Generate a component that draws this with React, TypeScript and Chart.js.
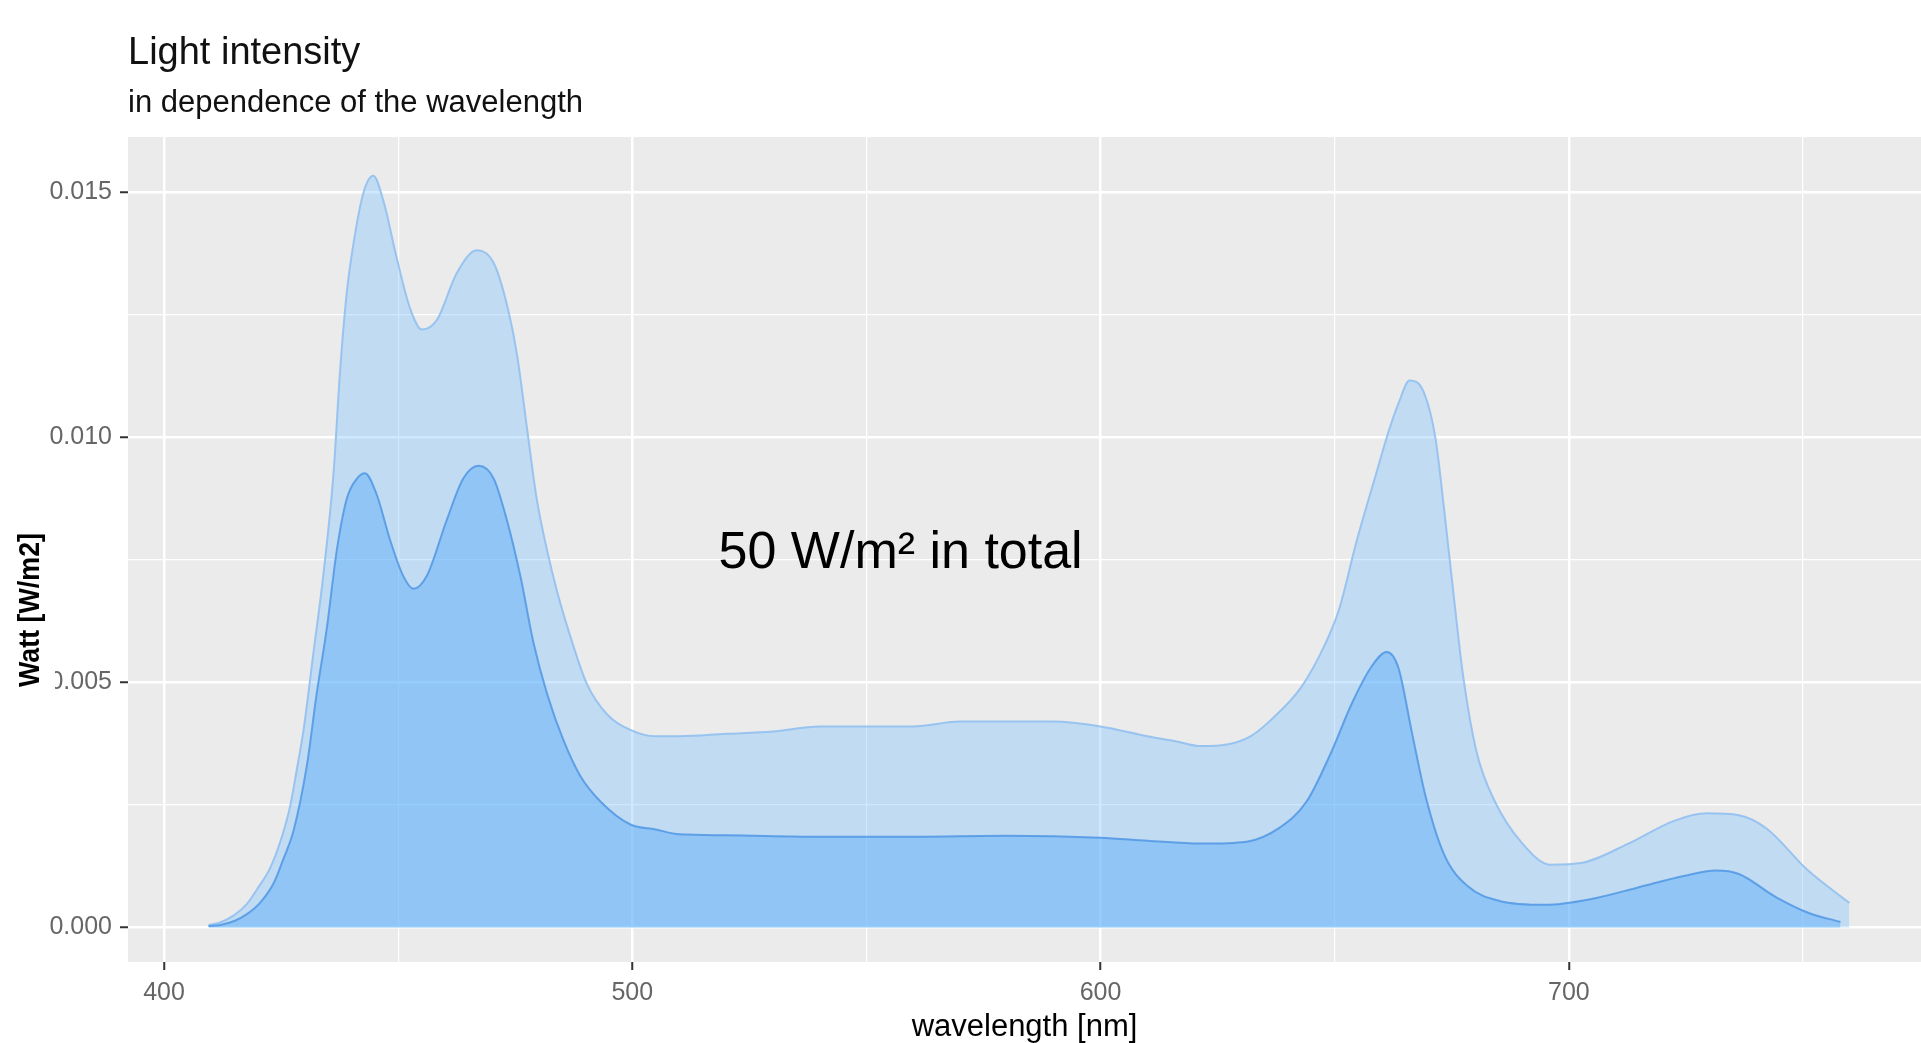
import React, { useEffect, useRef } from 'react';
import { Chart, registerables } from 'chart.js';

Chart.register(...registerables);

// ---- data ----
const outerNm = [
  409.5, 412, 415, 417.7, 420, 422.6, 425, 426.9, 428.5, 429.8, 431.9, 434, 436.2, 437.6, 439, 440.5,
  442.6, 444.7, 446.9, 449.7, 452.6, 455.1, 458.3, 462.5, 466.8, 470.4, 473.2, 475.4, 477.5, 479.6,
  481.8, 483.9, 486.8, 490.3, 494.6, 499.6, 505, 510, 520, 530, 540, 550, 560, 570, 580, 590, 600,
  610, 616, 621.4, 627.3, 632, 636.1, 642.9, 647.9, 650.9, 654.7, 658.7, 661.6, 663.6, 666, 669,
  671.5, 673.4, 675.4, 677.4, 680.3, 684.2, 690.1, 696, 702.9, 712.7, 722.6, 729.4, 736.3, 742.2,
  751.1, 759.9,
];
const outerW = [
  0.00005, 0.0001, 0.00025, 0.00048, 0.0008, 0.0012, 0.0018, 0.00246, 0.0033, 0.00403, 0.0056, 0.00717,
  0.00927, 0.01136, 0.01293, 0.01398, 0.015, 0.01534, 0.01481, 0.01366, 0.01262, 0.0122, 0.0124,
  0.01335, 0.01382, 0.01356, 0.01272, 0.01168, 0.0102, 0.00874, 0.0077, 0.00687, 0.00593, 0.00497,
  0.00435, 0.00403, 0.0039, 0.0039, 0.00395, 0.004, 0.0041, 0.0041, 0.0041, 0.0042, 0.0042, 0.0042,
  0.0041, 0.0039, 0.0038, 0.0037, 0.00374, 0.0039, 0.00421, 0.00491, 0.00577, 0.00648, 0.00789,
  0.00921, 0.01015, 0.01069, 0.01116, 0.01093, 0.00999, 0.0085, 0.00678, 0.00515, 0.00358, 0.00257,
  0.00171, 0.00128, 0.00132, 0.00171, 0.00218, 0.00233, 0.00229, 0.00202, 0.00116, 0.0005,
];
const innerNm = [
  409.5, 412, 415, 417.7, 420.5, 423.4, 425.5, 427.6, 430.5, 432.6, 434.8, 436.9, 439, 441.2, 442.9,
  445.4, 448.3, 451.1, 453.3, 456.1, 460.4, 463.9, 467.2, 470.4, 473.2, 476.1, 478.9, 481.8, 485.3,
  488.9, 493.2, 499.6, 505, 510, 520, 540, 560, 580, 600, 610, 621.4, 631.2, 638, 644, 648.9, 653.8,
  657.7, 661.1, 663.6, 666.5, 669.5, 673.4, 678.3, 685.2, 695, 704.8, 714.6, 724.5, 731.4, 736.3,
  744.2, 751.1, 758,
];
const innerW = [
  0.00003, 0.00005, 0.00013, 0.00027, 0.0005, 0.0009, 0.0014, 0.00195, 0.0033, 0.00477, 0.00613,
  0.0077, 0.00874, 0.00916, 0.00927, 0.00884, 0.0079, 0.00717, 0.00691, 0.00717, 0.00832, 0.00916,
  0.00942, 0.00916, 0.00832, 0.00717, 0.00581, 0.00477, 0.00382, 0.00309, 0.00257, 0.0021, 0.002,
  0.0019, 0.00188, 0.00185, 0.00185, 0.00187, 0.00183, 0.00177, 0.00171, 0.00175, 0.00202, 0.00257,
  0.0035, 0.0046, 0.0053, 0.00562, 0.0053, 0.00397, 0.00264, 0.00148, 0.00085, 0.00054, 0.00046,
  0.00058, 0.00081, 0.00105, 0.00116, 0.00109, 0.00062, 0.0003, 0.00011,
];

const xMajorTicks = [400, 500, 600, 700];
const xMinorTicks = [450, 550, 650, 750];
const xTickLabels = ['400', '500', '600', '700'];
const yMajorTicks = [0, 0.005, 0.01, 0.015];
const yMinorTicks = [0.0025, 0.0075, 0.0125];
const yTickLabels = ['0.000', '0.005', '0.010', '0.015'];

const titleText = 'Light intensity';
const subtitleText = 'in dependence of the wavelength';
const xAxisTitle = 'wavelength [nm]';
const yAxisTitle = 'Watt [W/m2]';
const annotationText = '50 W/m\u00B2 in total';
const annotationNm = 557.3;
const annotationW = 0.00733;

const FONT = "'Liberation Sans', Arial, Helvetica, sans-serif";

const panelBackground = {
  id: 'panelBackground',
  beforeDraw(chart: any) {
    const { ctx, chartArea } = chart;
    const { left, top, right, bottom } = chartArea;
    ctx.save();
    ctx.fillStyle = '#EBEBEB';
    ctx.fillRect(left, top, right - left, bottom - top);
    ctx.restore();
  },
};

const texts = {
  id: 'texts',
  afterDraw(chart: any) {
    const { ctx, scales } = chart;
    ctx.save();
    // title + subtitle
    ctx.fillStyle = '#111';
    ctx.textAlign = 'left';
    ctx.textBaseline = 'alphabetic';
    ctx.font = `38px ${FONT}`;
    ctx.fillText(titleText, 128, 64);
    ctx.font = `31px ${FONT}`;
    ctx.fillText(subtitleText, 128, 112);

    // y-axis title on a white box (it covers part of a tick label, as in the original)
    ctx.fillStyle = '#fff';
    ctx.fillRect(0, 527, 55, 166);
    ctx.fillStyle = '#000';
    ctx.translate(31, 610);
    ctx.rotate(-Math.PI / 2);
    ctx.textAlign = 'center';
    ctx.textBaseline = 'middle';
    ctx.font = `bold 30px 'Liberation Sans Narrow', ${FONT}`;
    const w = ctx.measureText(yAxisTitle).width;
    const k = Math.min(1, 154 / w);
    ctx.scale(k, 1);
    ctx.fillText(yAxisTitle, 0, 0);
    ctx.restore();

    // annotation placed in data coordinates
    ctx.save();
    ctx.fillStyle = '#000';
    ctx.font = `52px ${FONT}`;
    ctx.textAlign = 'center';
    ctx.textBaseline = 'alphabetic';
    ctx.fillText(annotationText, scales.x.getPixelForValue(annotationNm), scales.y.getPixelForValue(annotationW));
    ctx.restore();
  },
};

export default function App() {
  const canvasRef = useRef<HTMLCanvasElement | null>(null);

  useEffect(() => {
    document.body.style.margin = '0';
    document.body.style.overflow = 'hidden';
    const canvas = canvasRef.current;
    if (!canvas) return;

    const isXMajor = (v: number) => xMajorTicks.indexOf(v) >= 0;
    const isYMajor = (v: number) => yMajorTicks.some((t) => Math.abs(t - v) < 1e-9);

    const chart = new Chart(canvas, {
      type: 'line',
      data: {
        datasets: [
          {
            label: 'inner',
            data: innerNm.map((x, i) => ({ x, y: innerW[i] })),
            fill: 'origin',
            backgroundColor: 'rgba(70,165,250,0.4)',
            borderColor: 'rgba(80,150,228,0.85)',
            borderWidth: 2,
            pointRadius: 0,
            cubicInterpolationMode: 'monotone',
          },
          {
            label: 'outer',
            data: outerNm.map((x, i) => ({ x, y: outerW[i] })),
            fill: 'origin',
            backgroundColor: 'rgba(115,189,255,0.35)',
            borderColor: 'rgba(145,192,240,0.9)',
            borderWidth: 2,
            pointRadius: 0,
            cubicInterpolationMode: 'monotone',
          },
        ],
      },
      options: {
        animation: false,
        responsive: true,
        maintainAspectRatio: false,
        layout: { padding: { top: 137, left: 0, right: 0, bottom: 0 } },
        plugins: {
          legend: { display: false },
          tooltip: { enabled: false },
          title: { display: false },
        },
        scales: {
          x: {
            type: 'linear',
            min: 392.31,
            max: 775.2,
            afterBuildTicks: (scale: any) => {
              scale.ticks = [...xMajorTicks, ...xMinorTicks].sort((a, b) => a - b).map((v) => ({ value: v }));
            },
            afterFit: (scale: any) => {
              scale.height = 81;
            },
            border: { display: false },
            grid: {
              color: '#FFFFFF',
              lineWidth: (c: any) => (isXMajor(c.tick.value) ? 2.5 : 1.2),
              tickColor: (c: any) => (isXMajor(c.tick.value) ? '#333333' : 'rgba(0,0,0,0)'),
              tickLength: 8,
              tickWidth: 2,
            },
            ticks: {
              autoSkip: false,
              maxRotation: 0,
              padding: 8,
              color: '#666666',
              font: { family: FONT, size: 25 },
              callback: (v: any) => {
                const i = xMajorTicks.indexOf(Number(v));
                return i >= 0 ? xTickLabels[i] : '';
              },
            },
            title: {
              display: true,
              text: xAxisTitle,
              color: '#000',
              font: { family: FONT, size: 31, lineHeight: 1 },
              padding: { top: 0, bottom: 0 },
            },
          },
          y: {
            type: 'linear',
            min: -0.000706,
            max: 0.016131,
            afterBuildTicks: (scale: any) => {
              scale.ticks = [...yMajorTicks, ...yMinorTicks].sort((a, b) => a - b).map((v) => ({ value: v }));
            },
            afterFit: (scale: any) => {
              scale.width = 128;
            },
            border: { display: false },
            grid: {
              color: '#FFFFFF',
              lineWidth: (c: any) => (isYMajor(c.tick.value) ? 2.5 : 1.2),
              tickColor: (c: any) => (isYMajor(c.tick.value) ? '#333333' : 'rgba(0,0,0,0)'),
              tickLength: 8,
              tickWidth: 2,
            },
            ticks: {
              autoSkip: false,
              padding: 8,
              color: '#666666',
              font: { family: FONT, size: 25 },
              callback: (v: any) => {
                const i = yMajorTicks.findIndex((t) => Math.abs(t - Number(v)) < 1e-9);
                return i >= 0 ? yTickLabels[i] : '';
              },
            },
          },
        },
      },
      plugins: [panelBackground, texts],
    } as any);

    return () => chart.destroy();
  }, []);

  return (
    <div style={{ position: 'relative', width: '1921px', height: '1043px' }}>
      <canvas ref={canvasRef} />
    </div>
  );
}
